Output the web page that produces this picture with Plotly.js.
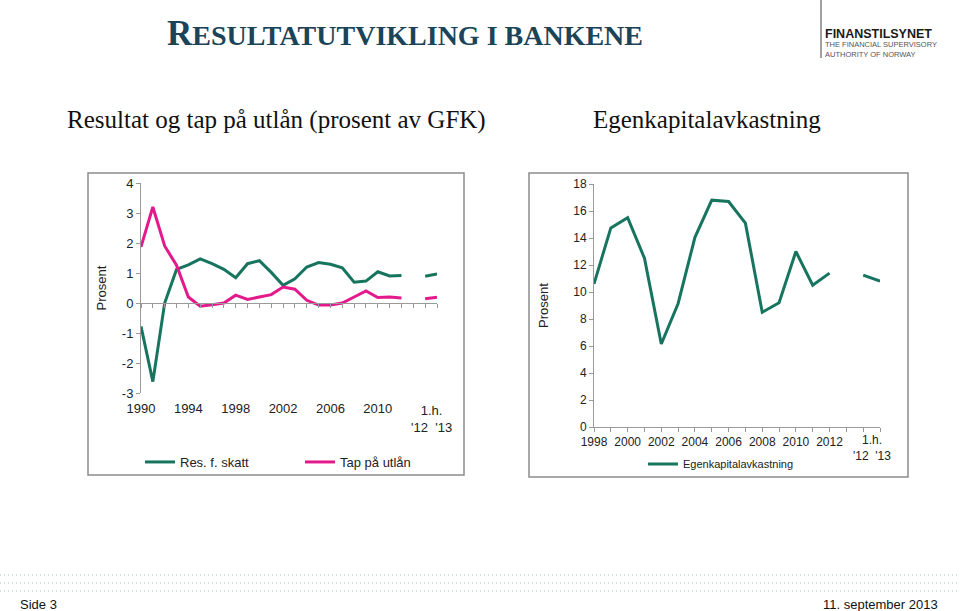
<!DOCTYPE html>
<html>
<head>
<meta charset="utf-8">
<script src="https://cdn.plot.ly/plotly-3.0.1.min.js"></script>
<style>
  html, body { margin: 0; padding: 0; background: #fff; }
  #chart { width: 960px; height: 611px; }
</style>
</head>
<body>
<div id="chart"></div>
<script>
// ---- Left chart: Resultat og tap på utlån (prosent av GFK) ----
const leftCategories = ['1990','1991','1992','1993','1994','1995','1996','1997','1998','1999',
  '2000','2001','2002','2003','2004','2005','2006','2007','2008','2009','2010','2011','2012',
  'gap','1h12','1h13'];
const resFSkatt = [-0.78, -2.62, 0.0, 1.12, 1.27, 1.47, 1.31, 1.12, 0.84, 1.31,
  1.41, 1.02, 0.59, 0.81, 1.2, 1.35, 1.29, 1.17, 0.69, 0.73, 1.04, 0.9, 0.92,
  null, 0.89, 0.97];
const tapPaaUtlaan = [1.87, 3.2, 1.9, 1.26, 0.2, -0.11, -0.06, 0.0, 0.26, 0.12,
  0.2, 0.28, 0.53, 0.46, 0.09, -0.07, -0.07, 0.0, 0.2, 0.4, 0.18, 0.2, 0.17,
  null, 0.14, 0.19];
const leftTickVals = ['1990','1994','1998','2002','2006','2010'];
const leftTickText = ['1990','1994','1998','2002','2006','2010'];
const leftYTickVals = [-3, -2, -1, 0, 1, 2, 3, 4];
const leftYTickText = ['-3', '-2', '-1', '0', '1', '2', '3', '4'];
const halfYearLabel = "1.h.<br>'12&nbsp;&nbsp;'13";

// ---- Right chart: Egenkapitalavkastning ----
const rightCategories = ['1998','1999','2000','2001','2002','2003','2004','2005','2006','2007',
  '2008','2009','2010','2011','2012','gap','1h12','1h13'];
const egenkapitalavkastning = [10.6, 14.75, 15.5, 12.5, 6.15, 9.15, 14.05, 16.8, 16.7, 15.1,
  8.5, 9.2, 13.0, 10.5, 11.4, null, 11.25, 10.8];
const rightTickText = ['1998','','2000','','2002','','2004','','2006','','2008','','2010','','2012','','',''];

const GREEN = '#17745f';
const PINK = '#e3198c';
const W = 960, H = 611;
const px = v => v / W;
const py = v => 1 - v / H;

const SANS = 'Liberation Sans, Arial, sans-serif';
const tickFont = {family: SANS, size: 13, color: '#222'};
const tickFont2 = {family: SANS, size: 12, color: '#222'};

const traces = [
  {x: leftCategories, y: resFSkatt, name: 'Res. f. skatt', type: 'scatter', mode: 'lines',
   line: {color: GREEN, width: 3}, xaxis: 'x', yaxis: 'y', legend: 'legend', connectgaps: false},
  {x: leftCategories, y: tapPaaUtlaan, name: 'Tap på utlån', type: 'scatter', mode: 'lines',
   line: {color: PINK, width: 3}, xaxis: 'x3', yaxis: 'y', legend: 'legend', connectgaps: false},
  {x: rightCategories, y: egenkapitalavkastning, name: 'Egenkapitalavkastning', type: 'scatter', mode: 'lines',
   line: {color: GREEN, width: 3}, xaxis: 'x2', yaxis: 'y2', legend: 'legend2', connectgaps: false}
];

const layout = {
  width: W, height: H,
  margin: {l: 0, r: 0, t: 0, b: 0},
  paper_bgcolor: '#fff', plot_bgcolor: 'rgba(0,0,0,0)',
  showlegend: true,
  font: {family: SANS, color: '#222'},
  xaxis: {
    type: 'category', categoryorder: 'array', categoryarray: leftCategories,
    domain: [px(141), px(437)], anchor: 'y', range: [0, 25],
    showline: false, showgrid: false, zeroline: false, ticks: '',
    tickmode: 'array', tickvals: leftTickVals, ticktext: leftTickText, tickangle: 0,
    tickfont: tickFont, ticklabelstandoff: 6, fixedrange: true
  },
  xaxis3: {
    type: 'category', categoryorder: 'array', categoryarray: leftCategories,
    overlaying: 'x', anchor: 'free', position: py(303), range: [0, 25],
    showline: true, linecolor: '#9a9a9a', linewidth: 1,
    ticks: 'outside', ticklen: 4, tickcolor: '#9a9a9a', tickwidth: 1,
    tickmode: 'array', tickvals: leftCategories, showticklabels: false,
    showgrid: false, zeroline: false, fixedrange: true
  },
  yaxis: {
    domain: [py(393), py(183)], anchor: 'x', range: [-3, 4],
    tickmode: 'array', tickvals: leftYTickVals, ticktext: leftYTickText,
    showline: true, linecolor: '#9a9a9a', linewidth: 1,
    ticks: 'outside', ticklen: 4, tickcolor: '#9a9a9a',
    showgrid: false, zeroline: false, tickfont: tickFont,
    title: {text: 'Prosent', font: {size: 13, color: '#222'}, standoff: 12},
    fixedrange: true
  },
  xaxis2: {
    type: 'category', categoryorder: 'array', categoryarray: rightCategories,
    domain: [px(594), px(880)], anchor: 'y2', range: [0, 17],
    showline: true, linecolor: '#9a9a9a', linewidth: 1,
    ticks: 'outside', ticklen: 4, tickcolor: '#9a9a9a',
    tickmode: 'array', tickvals: rightCategories, ticktext: rightTickText, tickangle: 0,
    tickfont: tickFont2,
    showgrid: false, zeroline: false, fixedrange: true
  },
  yaxis2: {
    domain: [py(427), py(184)], anchor: 'x2', range: [0, 18],
    tickmode: 'linear', tick0: 0, dtick: 2,
    showline: true, linecolor: '#9a9a9a', linewidth: 1,
    ticks: 'outside', ticklen: 4, tickcolor: '#9a9a9a',
    showgrid: false, zeroline: false,
    tickfont: tickFont2,
    title: {text: 'Prosent', font: {size: 13, color: '#222'}, standoff: 21},
    fixedrange: true
  },
  legend: {
    orientation: 'h', x: px(140), y: py(462), xanchor: 'left', yanchor: 'middle',
    entrywidth: 115, entrywidthmode: 'pixels',
    font: {family: SANS, size: 13, color: '#222'},
    bgcolor: 'rgba(0,0,0,0)', itemwidth: 30, tracegroupgap: 0
  },
  legend2: {
    orientation: 'h', x: px(643), y: py(464), xanchor: 'left', yanchor: 'middle',
    font: {family: SANS, size: 11, color: '#222'},
    bgcolor: 'rgba(0,0,0,0)', itemwidth: 30
  },
  shapes: [
    {type: 'rect', xref: 'paper', yref: 'paper', x0: px(88), x1: px(464), y0: py(475), y1: py(173),
     line: {color: '#8c8c8c', width: 1.5}},
    {type: 'rect', xref: 'paper', yref: 'paper', x0: px(529), x1: px(908), y0: py(477), y1: py(173),
     line: {color: '#8c8c8c', width: 1.5}},
    {type: 'line', xref: 'paper', yref: 'paper', x0: px(821), x1: px(821), y0: py(58), y1: py(0),
     line: {color: '#a0a0a0', width: 2}},
    {type: 'line', xref: 'paper', yref: 'paper', x0: 0, x1: 1, y0: py(575), y1: py(575),
     line: {color: '#a9c6cf', width: 1, dash: '1px,3px'}},
    {type: 'line', xref: 'paper', yref: 'paper', x0: 0, x1: 1, y0: py(583), y1: py(583),
     line: {color: '#a9c6cf', width: 1, dash: '1px,3px'}},
    {type: 'line', xref: 'paper', yref: 'paper', x0: 0, x1: 1, y0: py(591), y1: py(591),
     line: {color: '#a9c6cf', width: 1, dash: '1px,3px'}}
  ],
  annotations: [
    {xref: 'paper', yref: 'paper', x: px(165), y: py(55), xanchor: 'left', yanchor: 'bottom',
     showarrow: false,
     text: '<b><span style="font-size:35px">R</span>ESULTATUTVIKLING I BANKENE</b>',
     font: {family: 'Liberation Serif, Times New Roman, serif', size: 28, color: '#1b4459'}},
    {xref: 'paper', yref: 'paper', x: px(276), y: py(120), xanchor: 'center', yanchor: 'middle',
     showarrow: false, text: 'Resultat og tap på utlån (prosent av GFK)',
     font: {family: 'Liberation Serif, Times New Roman, serif', size: 25, color: '#111'}},
    {xref: 'paper', yref: 'paper', x: px(707), y: py(120), xanchor: 'center', yanchor: 'middle',
     showarrow: false, text: 'Egenkapitalavkastning',
     font: {family: 'Liberation Serif, Times New Roman, serif', size: 25, color: '#111'}},
    {xref: 'paper', yref: 'paper', x: px(823), y: py(34.5), xanchor: 'left', yanchor: 'middle',
     showarrow: false, text: '<b>FINANSTILSYNET</b>',
     font: {family: SANS, size: 12.5, color: '#1a1a1a'}},
    {xref: 'paper', yref: 'paper', x: px(823), y: py(49), xanchor: 'left', yanchor: 'middle',
     showarrow: false, align: 'left', text: 'THE FINANCIAL SUPERVISORY<br>AUTHORITY OF NORWAY',
     font: {family: SANS, size: 7.5, color: '#555'}},
    {xref: 'x', yref: 'paper', x: 24.5, y: py(401), xanchor: 'center', yanchor: 'top',
     showarrow: false, text: halfYearLabel, font: tickFont},
    {xref: 'x2', yref: 'paper', x: 16.5, y: py(431), xanchor: 'center', yanchor: 'top',
     showarrow: false, text: halfYearLabel, font: tickFont2},
    {xref: 'paper', yref: 'paper', x: px(18), y: py(604), xanchor: 'left', yanchor: 'middle',
     showarrow: false, text: 'Side 3',
     font: {family: 'Liberation Sans Narrow, Liberation Sans, Arial, sans-serif', size: 13, color: '#111'}},
    {xref: 'paper', yref: 'paper', x: px(940), y: py(604), xanchor: 'right', yanchor: 'middle',
     showarrow: false, text: '11. september 2013',
     font: {family: 'Liberation Sans Narrow, Liberation Sans, Arial, sans-serif', size: 13, color: '#111'}}
  ]
};

Plotly.newPlot('chart', traces, layout, {staticPlot: true, displayModeBar: false});
</script>
</body>
</html>
